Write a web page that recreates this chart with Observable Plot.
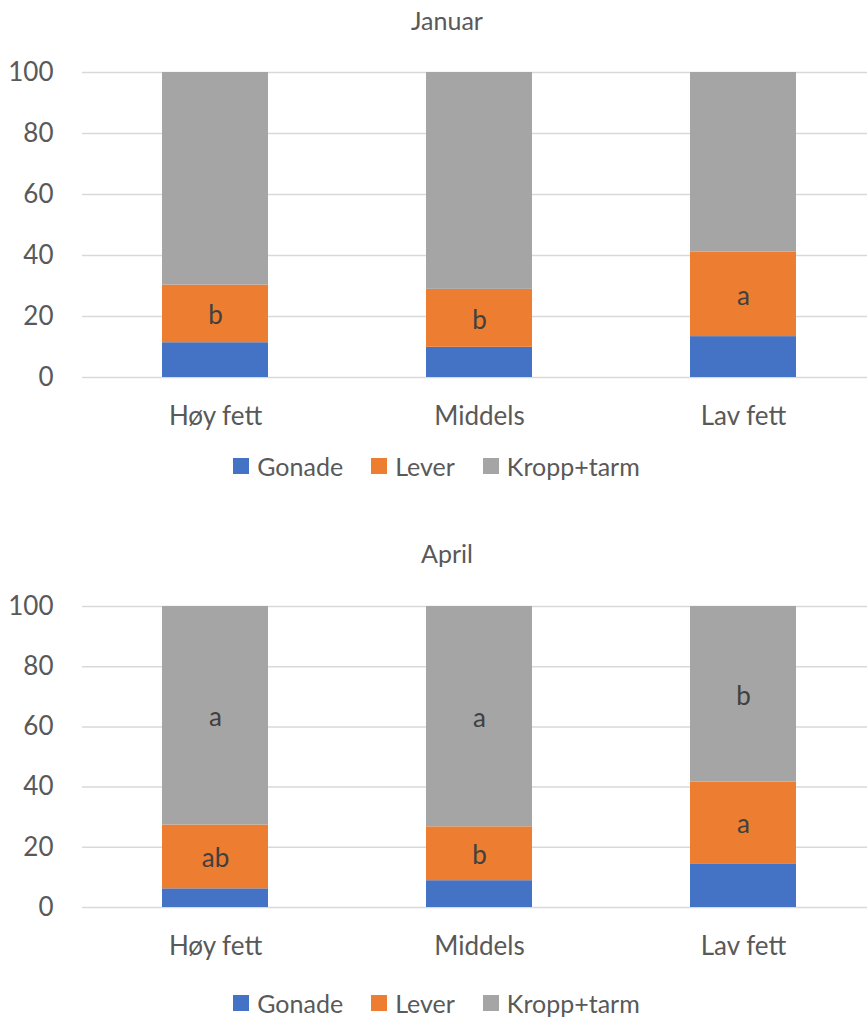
<!DOCTYPE html>
<html>
<head>
<meta charset="utf-8">
<script src="https://cdn.jsdelivr.net/npm/d3@7"></script>
<script src="https://cdn.jsdelivr.net/npm/@observablehq/plot@0.6"></script>
<style>
  body { margin: 0; background: #fff; font-family: Lato, "Open Sans", sans-serif; color: #595959; }
  #root { position: relative; width: 867px; height: 1023px; overflow: hidden; }
  .title { position: absolute; left: 0; width: 894px; text-align: center; font-size: 25px; line-height: 30px; }
  .legend { position: absolute; left: 0; width: 873px; display: flex; justify-content: center; gap: 0; font-size: 25px; line-height: 30px; }
  .legend span.item { display: inline-flex; align-items: center; margin-right: 28px; }
  .legend span.item:last-child { margin-right: 0; }
  .legend span.sw { display: inline-block; width: 16px; height: 16px; margin-right: 8px; }
  .panel { position: absolute; left: 0; }
</style>
</head>
<body>
<div id="root"></div>
<script>
const categories = ["Høy fett", "Middels", "Lav fett"];
const seriesNames = ["Gonade", "Lever", "Kropp+tarm"];
const colors = ["#4472C4", "#ED7D31", "#A5A5A5"];
const yTicks = [0, 20, 40, 60, 80, 100];

const janGonade = [11.4, 9.9, 13.4];
const janLever = [18.9, 19.0, 27.7];
const janKropp = [69.7, 71.1, 58.9];
const janLeverLabels = ["b", "b", "a"];
const janKroppLabels = ["", "", ""];

const aprGonade = [6.2, 8.9, 14.5];
const aprLever = [21.2, 17.9, 27.2];
const aprKropp = [72.6, 73.2, 58.3];
const aprLeverLabels = ["ab", "b", "a"];
const aprKroppLabels = ["a", "a", "b"];

function buildRows(g, l, k, ll, kl) {
  const rows = [];
  categories.forEach((c, i) => {
    rows.push({cat: c, series: seriesNames[0], value: g[i], label: ""});
    rows.push({cat: c, series: seriesNames[1], value: l[i], label: ll[i]});
    rows.push({cat: c, series: seriesNames[2], value: k[i], label: kl[i]});
  });
  return rows;
}

function chart(rows, height) {
  return Plot.plot({
    width: 867,
    height: height,
    marginLeft: 82,
    marginRight: 0,
    marginTop: 22,
    marginBottom: 63,
    style: {fontFamily: "Lato, 'Open Sans', sans-serif", fontSize: "26px", color: "#595959", background: "#fff"},
    x: {domain: categories, range: [82, 876], paddingInner: 0.6, paddingOuter: 0.3, label: null},
    y: {domain: [0, 100], label: null},
    color: {domain: seriesNames, range: colors},
    marks: [
      Plot.ruleY(yTicks, {stroke: "#d9d9d9", strokeWidth: 1.5}),
      Plot.barY(rows, Plot.stackY({x: "cat", y: "value", fill: "series", z: "series", order: null})),
      Plot.text(rows, Plot.stackY({x: "cat", y: "value", z: "series", order: null, text: "label", fill: "#404040", fontSize: 26, dy: 2})),
      Plot.axisY({ticks: yTicks, tickSize: 0, tickPadding: 29, label: null, fontSize: 26, fill: "#595959"}),
      Plot.axisX({tickSize: 0, tickPadding: 29, label: null, fontSize: 26, fill: "#595959"})
    ]
  });
}

const root = document.getElementById("root");

function addPanel(titleText, titleTop, svgTop, svgHeight, legendTop, rows) {
  const t = document.createElement("div");
  t.className = "title";
  t.style.top = titleTop + "px";
  t.textContent = titleText;
  root.appendChild(t);

  const p = document.createElement("div");
  p.className = "panel";
  p.style.top = svgTop + "px";
  p.appendChild(chart(rows, svgHeight));
  root.appendChild(p);

  const lg = document.createElement("div");
  lg.className = "legend";
  lg.style.top = legendTop + "px";
  seriesNames.forEach((s, i) => {
    const it = document.createElement("span");
    it.className = "item";
    const sw = document.createElement("span");
    sw.className = "sw";
    sw.style.background = colors[i];
    it.appendChild(sw);
    it.appendChild(document.createTextNode(s));
    lg.appendChild(it);
  });
  root.appendChild(lg);
}

addPanel("Januar", 5, 50, 390, 451, buildRows(janGonade, janLever, janKropp, janLeverLabels, janKroppLabels));
addPanel("April", 538, 584, 386, 988, buildRows(aprGonade, aprLever, aprKropp, aprLeverLabels, aprKroppLabels));
</script>
</body>
</html>
